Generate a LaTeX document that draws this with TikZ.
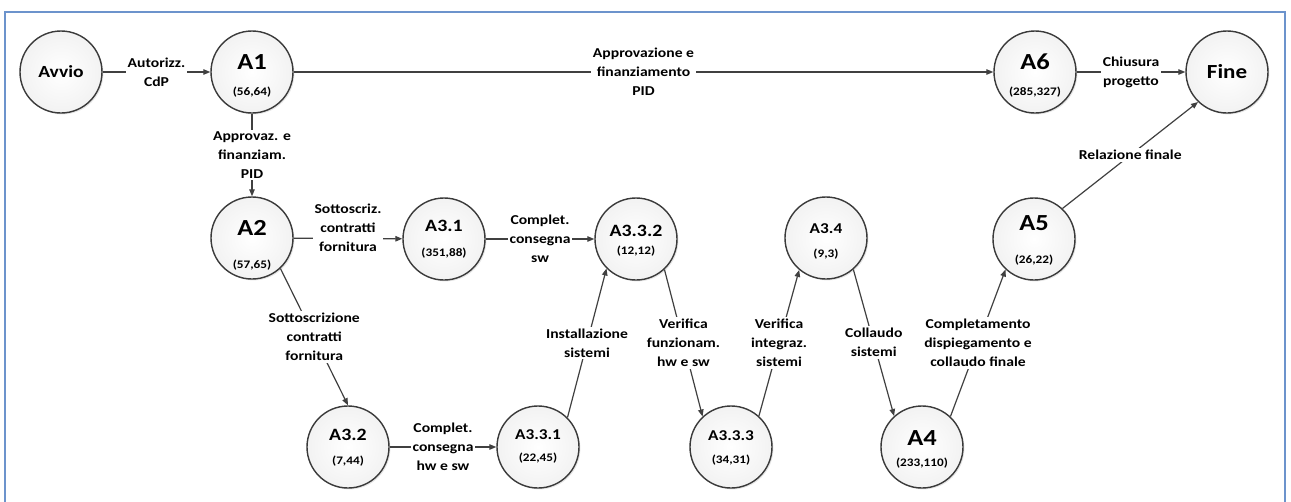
\documentclass[tikz,border=0pt]{standalone}
\usepackage{fontspec}
\setmainfont{Carlito}[FakeStretch=1.15]
\usetikzlibrary{arrows.meta,shadows}
\definecolor{framec}{HTML}{6C93CC}
\definecolor{linec}{HTML}{404040}
\definecolor{circc}{HTML}{3A3A3A}
\newcommand\actnode[8]{%
  \node[act] (#1) at (#2,#3) {};
  \node[#4] (#1-t) at ([yshift=#6]#1.center) {#5};
  \node[numt] (#1-n) at ([yshift=#8]#1.center) {#7};
}
\begin{document}
\begin{tikzpicture}[x=1pt,y=-1pt,
  act/.style={circle, draw=circc, line width=1.4pt, minimum size=82pt, inner sep=0pt,
    inner color=white, outer color=black!5,
    drop shadow={shadow xshift=1.4pt, shadow yshift=-1.4pt, opacity=0.2, fill=black!50}},
  bigt/.style={font=\fontsize{23}{23}\selectfont\bfseries, inner sep=0pt},
  midt/.style={font=\fontsize{17.3}{18}\selectfont\bfseries, inner sep=0pt},
  smt/.style={font=\fontsize{15}{16}\selectfont\bfseries, inner sep=0pt},
  numt/.style={font=\fontsize{11.5}{12}\selectfont\bfseries, inner sep=0pt},
  conn/.style={draw=linec, line width=1.2pt, -{Triangle[length=7pt,width=5.5pt]}},
  lbl/.style={fill=white, align=center, font=\fontsize{13.6}{19}\selectfont\bfseries,
    inner sep=2pt, text=black, pos=0.5},
]
\useasboundingbox (0,0) rectangle (1291,501);
\fill[white] (0,0) rectangle (1291,501);
\draw[framec, line width=2pt] (5,12) rectangle (1285,540);

\node[act, font=\fontsize{17}{17}\selectfont\bfseries] (avvio) at (61,72) {Avvio};
\node[act, font=\fontsize{20}{20}\selectfont\bfseries] (fine) at (1227,72) {Fine};
\actnode{A1}{252}{72}{bigt}{A1}{10pt}{(56,64)}{-20pt}
\actnode{A6}{1035}{72}{bigt}{A6}{10pt}{(285,327)}{-20pt}
\actnode{A2}{252}{238}{bigt}{A2}{10pt}{(57,65)}{-27pt}
\actnode{A31}{444}{239}{midt}{A3.1}{13pt}{(351,88)}{-14pt}
\actnode{A332}{636}{239}{midt}{A3.3.2}{8pt}{(12,12)}{-12pt}
\actnode{A34}{826}{238}{smt}{A3.4}{9pt}{(9,3)}{-16pt}
\actnode{A5}{1034}{239}{bigt}{A5}{16pt}{(26,22)}{-21pt}
\actnode{A32}{348}{447}{midt}{A3.2}{12pt}{(7,44)}{-14pt}
\actnode{A331}{538}{447}{smt}{A3.3.1}{12pt}{(22,45)}{-11pt}
\actnode{A333}{731}{447}{smt}{A3.3.3}{11pt}{(34,31)}{-13pt}
\actnode{A4}{922}{447}{bigt}{A4}{9pt}{(233,110)}{-16pt}

\draw[conn] (avvio) -- node[lbl]{Autorizz.\\CdP} (A1);
\draw[conn] (A1) -- node[lbl]{Approvaz. e\\finanziam.\\PID} (A2);
\draw[conn] (A1) -- node[lbl]{Approvazione e\\finanziamento\\PID} (A6);
\draw[conn] (A6) -- node[lbl]{Chiusura\\progetto} (fine);
\draw[conn] (A2) -- node[lbl, yshift=11pt]{Sottoscriz.\\contratti\\fornitura} (A31);
\draw[conn] (A2.-47) -- node[lbl]{Sottoscrizione\\contratti\\fornitura} (A32.north);
\draw[conn] (A31) -- node[lbl]{Complet.\\consegna\\sw} (A332);
\draw[conn] (A32) -- node[lbl]{Complet.\\consegna\\hw e sw} (A331);
\draw[conn] (A331.45) -- node[lbl]{Installazione\\sistemi} (A332.-135);
\draw[conn] (A332.-47) -- node[lbl]{Verifica\\funzionam.\\hw e sw} (A333.133);
\draw[conn] (A333.48) -- node[lbl]{Verifica\\integraz.\\sistemi} (A34.-130);
\draw[conn] (A34.-49) -- node[lbl]{Collaudo\\sistemi} (A4.132);
\draw[conn] (A4.47) -- node[lbl]{Completamento\\dispiegamento e\\collaudo finale} (A5.-133);
\draw[conn] (A5.47) -- node[lbl]{Relazione finale} (fine.-134);
\end{tikzpicture}
\end{document}
